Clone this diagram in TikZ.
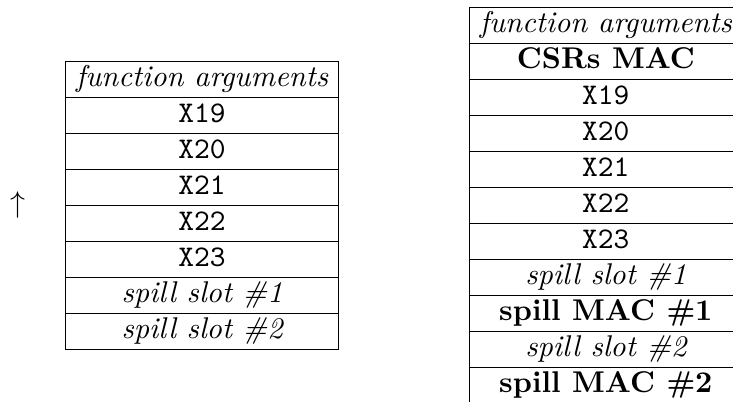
\documentclass[tikz,border=0pt]{standalone}
\usetikzlibrary{positioning}
\begin{document}
\begin{tikzpicture}[x=1pt,y=1pt,
  cell/.style={draw, line width=0.4pt, minimum width=91.1pt,
    inner xsep=0pt, inner ysep=0pt, outer sep=0pt,
    text height=8.4pt, text depth=3.6pt},
  node distance=0pt]
\useasboundingbox (0,0) rectangle (244.33,-133.67);
\clip (0,0) rectangle (244.33,-133.67);

% growth direction of the stack
\node (dir) at (6,-68.4) {$\uparrow$};

% frame without MAC protection
\node[cell, anchor=north] (l1) at (67.35,-20.4) {\itshape function arguments};
\node[cell, below=of l1] (l2) {\texttt{X19}};
\node[cell, below=of l2] (l3) {\texttt{X20}};
\node[cell, below=of l3] (l4) {\texttt{X21}};
\node[cell, below=of l4] (l5) {\texttt{X22}};
\node[cell, below=of l5] (l6) {\texttt{X23}};
\node[cell, below=of l6] (l7) {\itshape spill slot \#1};
\node[cell, below=of l7] (l8) {\itshape spill slot \#2};

% frame with MACs interleaved
\node[cell, anchor=north] (r1) at (201.95,-2.43) {\itshape function arguments};
\node[cell, below=of r1] (r2) {\bfseries CSRs MAC};
\node[cell, below=of r2] (r3) {\texttt{X19}};
\node[cell, below=of r3] (r4) {\texttt{X20}};
\node[cell, below=of r4] (r5) {\texttt{X21}};
\node[cell, below=of r5] (r6) {\texttt{X22}};
\node[cell, below=of r6] (r7) {\texttt{X23}};
\node[cell, below=of r7] (r8) {\itshape spill slot \#1};
\node[cell, below=of r8] (r9) {\bfseries spill MAC \#1};
\node[cell, below=of r9] (r10) {\itshape spill slot \#2};
\node[cell, below=of r10] (r11) {\bfseries spill MAC \#2};
\end{tikzpicture}
\end{document}
